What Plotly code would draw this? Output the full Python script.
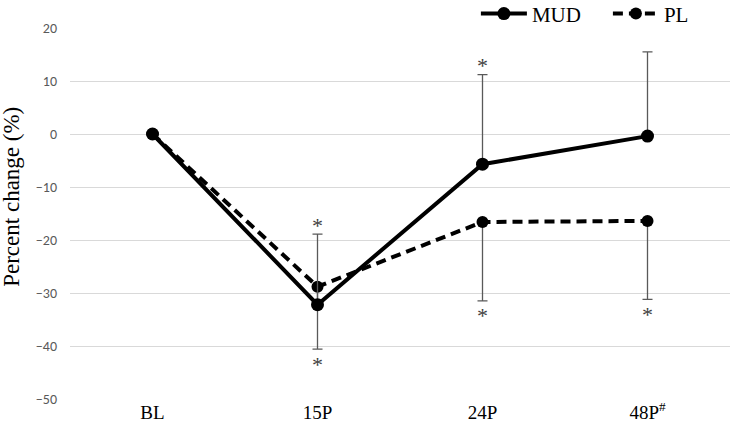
import plotly.graph_objects as go

categories = ["BL", "15P", "24P", "48P"]
tick_labels = ["BL", "15P", "24P", "48P<sup>#</sup>"]
mud = [0, -32.2, -5.7, -0.4]
mud_err_up = [0, 13.3, 16.9, 15.9]
pl = [0, -28.8, -16.6, -16.4]
pl_err_down = [0, 11.8, 14.9, 14.8]
zeros = [0, 0, 0, 0]
star_above = [1, 2]     # above MUD upper error bar
star_below = [1, 2, 3]  # below PL lower error bar

serif = "Liberation Serif, Times New Roman, serif"
sans = "Calibri, Carlito, Liberation Sans, Arial, sans-serif"

fig = go.Figure()
fig.add_trace(go.Scatter(
    x=categories, y=pl, name="PL", mode="lines+markers",
    line=dict(color="black", width=4, dash="10px,6px"),
    marker=dict(color="black", size=12),
    error_y=dict(type="data", symmetric=False, array=zeros, arrayminus=pl_err_down,
                 color="#595959", thickness=1.3, width=5),
))
fig.add_trace(go.Scatter(
    x=categories, y=mud, name="MUD", mode="lines+markers",
    line=dict(color="black", width=4),
    marker=dict(color="black", size=13),
    error_y=dict(type="data", symmetric=False, array=mud_err_up, arrayminus=zeros,
                 color="#595959", thickness=1.3, width=5),
))

for i in star_above:
    fig.add_annotation(x=categories[i], y=mud[i] + mud_err_up[i], text="*",
                       showarrow=False, yanchor="middle", yshift=9,
                       font=dict(family=serif, size=22, color="#404040"))
for i in star_below:
    fig.add_annotation(x=categories[i], y=pl[i] - pl_err_down[i], text="*",
                       showarrow=False, yanchor="middle", yshift=-15,
                       font=dict(family=serif, size=22, color="#404040"))

fig.add_annotation(xref="paper", yref="paper", x=-0.0879, y=0.545, text="Percent change (%)",
                   textangle=-90, showarrow=False, xanchor="center", yanchor="middle",
                   font=dict(family=serif, size=23, color="black"))

fig.update_layout(
    width=731, height=430,
    margin=dict(l=70, r=1, t=28, b=31, autoexpand=False),
    plot_bgcolor="white", paper_bgcolor="white",
    legend=dict(orientation="h", x=0.615, y=1.038, xanchor="left", yanchor="middle",
                traceorder="reversed", font=dict(family=serif, size=21, color="black"),
                bgcolor="rgba(0,0,0,0)", itemwidth=46, entrywidth=71),
    xaxis=dict(type="category", categoryorder="array", categoryarray=categories,
               tickvals=categories, ticktext=tick_labels, range=[-0.5, 3.5],
               showgrid=False, zeroline=False, showline=False,
               tickfont=dict(family=serif, size=19, color="black")),
    yaxis=dict(range=[-50, 20], dtick=10, tick0=0, showgrid=True, gridcolor="#d9d9d9",
               gridwidth=1, zeroline=False, showline=False, ticklabelstandoff=12,
               tickfont=dict(family=sans, size=14, color="#595959")),
    showlegend=True,
)

fig.write_html("out.html", config={"displayModeBar": False},
               post_script="document.body.style.margin='0';")
